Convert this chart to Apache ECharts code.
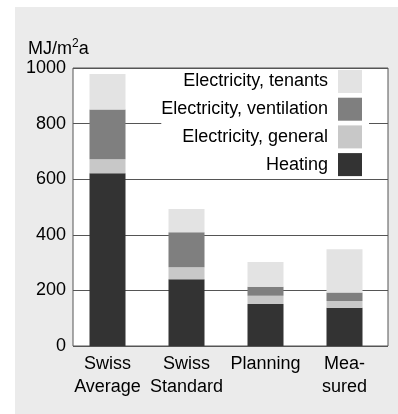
<!DOCTYPE html>
<html><head><meta charset="utf-8">
<script src="https://cdn.jsdelivr.net/npm/echarts@6/dist/echarts.min.js"></script>
<style>html,body{margin:0;padding:0;background:#fff}#c{width:398px;height:414px}</style>
</head><body><div id="c"></div>
<script>
const categories = ['Swiss\nAverage', 'Swiss\nStandard', 'Planning', 'Mea-\nsured'];
const heating = [621, 240, 151, 138];
const elecGeneral = [51, 43, 30, 24];
const elecVentilation = [179, 126, 32, 30];
const elecTenants = [127, 84, 89, 156];
const yTicks = [0, 200, 400, 600, 800, 1000];

const font = 'Liberation Sans, Arial, sans-serif';
const chart = echarts.init(document.getElementById('c'));
const mk = (name, data, color) => ({
  name, type: 'bar', stack: 's', data, xAxisIndex: 1, yAxisIndex: 1,
  barWidth: 36, itemStyle: { color }, emphasis: { disabled: true }
});
chart.setOption({
  animation: false,
  textStyle: { fontFamily: font },
  graphic: [{ type: 'rect', z: -10, silent: true, shape: { x: 15, y: 7, width: 383, height: 407 }, style: { fill: '#ebebeb' } }],
  title: {
    text: 'MJ/m{sup|2}a', left: 28, top: 38, padding: 0,
    textStyle: { fontFamily: font, fontSize: 18, fontWeight: 'normal', color: '#000',
      rich: { sup: { fontSize: 12, fontFamily: font, color: '#000', verticalAlign: 'top', padding: [0, 0, 10, 0] } } }
  },
  legend: {
    orient: 'vertical', right: 29, top: 70, align: 'right',
    itemWidth: 24, itemHeight: 23, itemGap: 4.7, padding: [0, 7, 0, 0],
    backgroundColor: '#fff',
    icon: 'rect',
    textStyle: { fontFamily: font, fontSize: 18, color: '#000', padding: [0, 5, 0, 0] },
    data: ['Electricity, tenants', 'Electricity, ventilation', 'Electricity, general', 'Heating']
  },
  grid: [
    { left: 73, top: 68, width: 315, height: 278, show: true, backgroundColor: '#fff', borderColor: '#555', borderWidth: 1 },
    { left: 68, top: 68, width: 316, height: 278, show: false }
  ],
  xAxis: [
    { gridIndex: 0, type: 'category', data: categories, show: false },
    { gridIndex: 1, type: 'category', data: categories,
      axisLine: { show: false }, axisTick: { show: false },
      axisLabel: { fontFamily: font, fontSize: 18, color: '#000', lineHeight: 23, margin: 7, interval: 0 } }
  ],
  yAxis: [
    { gridIndex: 0, type: 'value', min: yTicks[0], max: yTicks[yTicks.length - 1], interval: 200,
      axisLine: { show: false }, axisTick: { show: false },
      splitLine: { lineStyle: { color: '#555', width: 1 } },
      axisLabel: { fontFamily: font, fontSize: 18, color: '#000', margin: 7, formatter: v => String(v) } },
    { gridIndex: 1, type: 'value', min: 0, max: 1000, show: false, splitLine: { show: false } }
  ],
  series: [
    mk('Heating', heating, '#333333'),
    mk('Electricity, general', elecGeneral, '#c8c8c8'),
    mk('Electricity, ventilation', elecVentilation, '#7f7f7f'),
    mk('Electricity, tenants', elecTenants, '#e3e3e3')
  ]
});
</script></body></html>
